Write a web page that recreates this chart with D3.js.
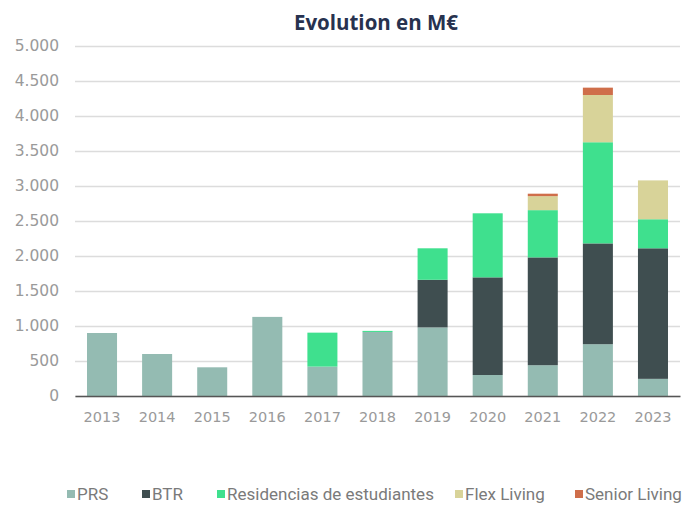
<!DOCTYPE html>
<html>
<head>
<meta charset="utf-8">
<script src="https://cdn.jsdelivr.net/npm/d3@7"></script>
<style>
  body { margin: 0; background: #fff; }
  svg { display: block; }
</style>
</head>
<body>
<div id="chart"></div>
<script>
const years = ["2013", "2014", "2015", "2016", "2017", "2018", "2019", "2020", "2021", "2022", "2023"];
const seriesNames = ["PRS", "BTR", "Residencias de estudiantes", "Flex Living", "Senior Living"];
const prs    = [900, 600, 410, 1130, 420, 915, 980, 300, 440, 740, 245];
const btr    = [0, 0, 0, 0, 0, 0, 680, 1395, 1540, 1440, 1865];
const resid  = [0, 0, 0, 0, 485, 15, 450, 915, 675, 1445, 415];
const flex   = [0, 0, 0, 0, 0, 0, 0, 0, 200, 675, 555];
const senior = [0, 0, 0, 0, 0, 0, 0, 0, 35, 105, 0];
const yTicks = [0, 500, 1000, 1500, 2000, 2500, 3000, 3500, 4000, 4500, 5000];
const colors = ["#94bbb2", "#3f4e50", "#3fe08e", "#d8d399", "#cf6e4a"];

const width = 683, height = 506;
const margin = { top: 46, bottom: 110, left: 75, right: 3 };

const table = years.map((y, i) => ({
  year: y,
  "PRS": prs[i],
  "BTR": btr[i],
  "Residencias de estudiantes": resid[i],
  "Flex Living": flex[i],
  "Senior Living": senior[i]
}));
const stacked = d3.stack().keys(seriesNames)(table);

const x = d3.scaleBand().domain(years)
  .range([margin.left, width - margin.right])
  .paddingInner(0.455).paddingOuter(0.218);
const y = d3.scaleLinear().domain([0, 5000]).range([height - margin.bottom, margin.top]);
const color = d3.scaleOrdinal().domain(seriesNames).range(colors);

const svg = d3.select("#chart").append("svg")
  .attr("width", width)
  .attr("height", height);

// title
svg.append("text")
  .text("Evolution en M€")
  .attr("x", 376)
  .attr("y", 30)
  .attr("text-anchor", "middle")
  .style("font-family", "'Open Sans', sans-serif")
  .style("font-weight", "bold")
  .style("font-size", "20.5px")
  .style("fill", "#27324f");

// gridlines + y labels
const yAxis = d3.axisLeft(y).tickValues(yTicks)
  .tickSize(-(width - margin.left - margin.right))
  .tickPadding(16)
  .tickFormat(d => d3.format(",")(d).replace(/,/g, "."));
const gy = svg.append("g")
  .attr("transform", "translate(" + margin.left + ",0)")
  .call(yAxis);
gy.select(".domain").remove();
gy.selectAll(".tick line").attr("stroke", "#dcdcdc").attr("stroke-width", 1.5);
gy.selectAll(".tick text")
  .style("font-family", "'DejaVu Sans', sans-serif")
  .style("font-size", "15.5px")
  .style("fill", "#9a9a9a");

// bars
svg.append("g").selectAll("g")
  .data(stacked)
  .join("g")
  .attr("fill", d => color(d.key))
  .selectAll("rect")
  .data(d => d)
  .join("rect")
  .attr("x", d => x(d.data.year))
  .attr("width", x.bandwidth())
  .attr("y", d => y(d[1]))
  .attr("height", d => y(d[0]) - y(d[1]));

// baseline + x labels
const xAxis = d3.axisBottom(x).tickSize(0).tickPadding(16);
const gx = svg.append("g")
  .attr("transform", "translate(0," + y(0) + ")")
  .call(xAxis);
gx.select(".domain").attr("stroke", "#555").attr("stroke-width", 1.5);
gx.selectAll(".tick text")
  .style("font-family", "'DejaVu Sans', sans-serif")
  .style("font-size", "14.5px")
  .style("fill", "#9a9a9a");

// legend
const legendX = [67, 142, 217, 455, 575];
const legend = svg.append("g");
seriesNames.forEach((name, i) => {
  legend.append("rect")
    .attr("x", legendX[i])
    .attr("y", 490)
    .attr("width", 8)
    .attr("height", 8)
    .attr("fill", colors[i]);
  legend.append("text")
    .text(name)
    .attr("x", legendX[i] + 10)
    .attr("y", 499.5)
    .style("font-family", "Roboto, sans-serif")
    .style("font-size", "17px")
    .style("fill", "#7a7a7a");
});
</script>
</body>
</html>
